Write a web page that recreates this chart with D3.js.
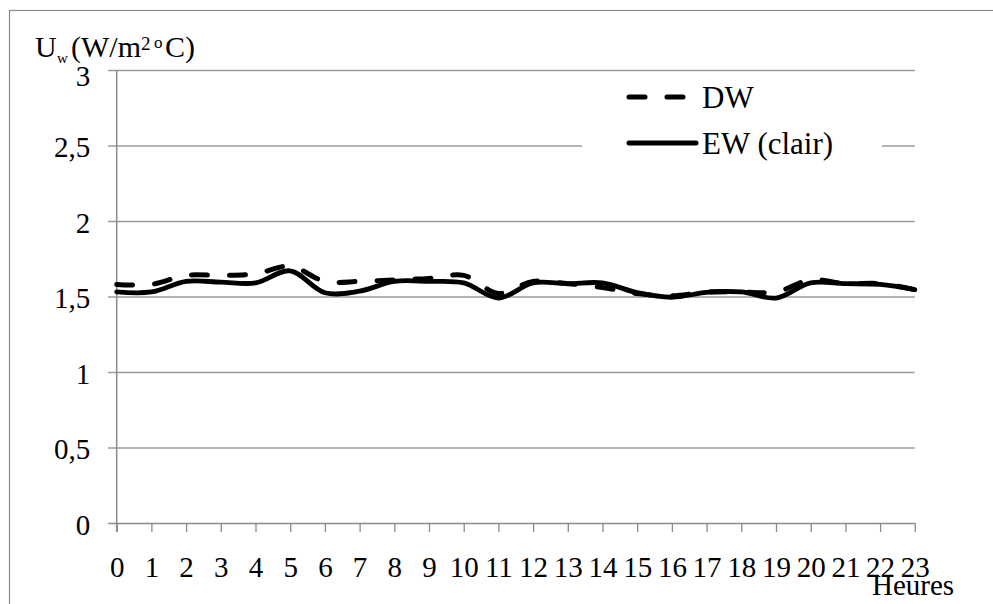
<!DOCTYPE html>
<html>
<head>
<meta charset="utf-8">
<script src="https://cdn.jsdelivr.net/npm/d3@7"></script>
<style>
  html, body { margin: 0; padding: 0; background: #fff; }
  svg { display: block; }
  text { font-family: "Liberation Serif", "Times New Roman", serif; fill: #000; }
</style>
</head>
<body>
<svg id="chart" width="993" height="604"></svg>
<script>
// Hours of the day (x categories)
const hours = d3.range(0, 24);
// Heat transfer coefficient U_w (W/m² °C) per hour
const dwValues = [1.58, 1.58, 1.64, 1.64, 1.65, 1.70, 1.60, 1.60, 1.61, 1.62, 1.64, 1.52,
                  1.60, 1.585, 1.56, 1.52, 1.505, 1.53, 1.53, 1.53, 1.61, 1.585, 1.585, 1.545];
const ewValues = [1.53, 1.53, 1.60, 1.595, 1.59, 1.67, 1.525, 1.535, 1.60, 1.60, 1.59, 1.49,
                  1.59, 1.585, 1.59, 1.525, 1.495, 1.527, 1.53, 1.49, 1.59, 1.585, 1.58, 1.545];
const yTicks = [0, 0.5, 1, 1.5, 2, 2.5, 3];
const seriesNames = ["DW", "EW (clair)"];

const svg = d3.select("#chart");
const fmt = d => String(d).replace(".", ",");

// Plot geometry
const plotLeft = 116.7, plotRight = 914.8, plotTop = 70, plotBottom = 523;

const x = d3.scalePoint().domain(hours).range([plotLeft, plotRight]);
const y = d3.scaleLinear().domain([0, 3]).range([plotBottom, plotTop]);

// Outer frame
svg.append("rect")
  .attr("x", 9.5).attr("y", 10.5).attr("width", 1000).attr("height", 620)
  .attr("fill", "none").attr("stroke", "#8a8a8a").attr("stroke-width", 1.2);

// Horizontal gridlines (with short outside tick to the left)
svg.append("g")
  .attr("transform", `translate(${plotRight},0)`)
  .call(d3.axisLeft(y).tickValues(yTicks.filter(d => d > 0)).tickSize(plotRight - 108).tickFormat(""))
  .call(g => g.select(".domain").remove())
  .call(g => g.selectAll(".tick line").attr("stroke", "#9a9a9a").attr("stroke-width", 1.3));

// Y axis labels
const yAxis = svg.append("g")
  .attr("transform", `translate(${plotLeft},0)`)
  .call(d3.axisLeft(y).tickValues(yTicks).tickSize(0).tickPadding(26.5).tickFormat(fmt))
  .call(g => g.select(".domain").remove());
yAxis.selectAll(".tick text")
  .attr("font-size", 29)
  .attr("dy", d => d === 3 ? "0.55em" : "0.38em");

// Y axis line
svg.append("line")
  .attr("x1", plotLeft).attr("x2", plotLeft).attr("y1", plotTop).attr("y2", plotBottom + 9)
  .attr("stroke", "#8a8a8a").attr("stroke-width", 1.5);

// X axis with tick marks below
const xAxis = svg.append("g")
  .attr("transform", `translate(0,${plotBottom})`)
  .call(d3.axisBottom(x).tickSize(9).tickPadding(0).tickSizeOuter(0));
xAxis.select(".domain").attr("stroke", "#8a8a8a").attr("stroke-width", 1.5)
  .attr("d", `M108,0.5H${plotRight}`);
xAxis.selectAll(".tick line").attr("stroke", "#8a8a8a").attr("stroke-width", 1.3);
xAxis.selectAll(".tick text")
  .attr("font-size", 29)
  .attr("y", 54).attr("dy", 0);

// Axis title
svg.append("text")
  .attr("x", 872).attr("y", 595)
  .attr("font-size", 29)
  .text("Heures");

const title = svg.append("text").attr("y", 57).attr("font-size", 30);
title.append("tspan").attr("x", 35).text("U");
title.append("tspan").attr("x", 57).attr("y", 63).attr("font-size", 15).text("w");
title.append("tspan").attr("x", 71).attr("y", 57).text("(W/m");
title.append("tspan").attr("x", 141).attr("y", 50).attr("font-size", 19).text("2");
title.append("tspan").attr("x", 154).attr("y", 48).attr("font-size", 17).text("o");
title.append("tspan").attr("x", 165).attr("y", 57).text("C)");

// Series lines
const line = d3.line()
  .x((d, i) => x(hours[i]))
  .y(d => y(d))
  .curve(d3.curveCatmullRom.alpha(0.5));

svg.append("path")
  .datum(dwValues)
  .attr("fill", "none").attr("stroke", "#000")
  .attr("stroke-width", 5).attr("stroke-linecap", "round")
  .attr("stroke-dasharray", "16,22")
  .attr("d", line);

svg.append("path")
  .datum(ewValues)
  .attr("fill", "none").attr("stroke", "#000")
  .attr("stroke-width", 4.8).attr("stroke-linecap", "round")
  .attr("d", line);

// Legend
const legend = svg.append("g");
legend.append("rect")
  .attr("x", 582).attr("y", 78).attr("width", 300).attr("height", 88)
  .attr("fill", "#fff");
const entries = [
  { name: seriesNames[0], dash: "16,22", y: 97, x2: 690 },
  { name: seriesNames[1], dash: null, y: 143, x2: 696 }
];
entries.forEach(e => {
  legend.append("line")
    .attr("x1", 629).attr("x2", e.x2).attr("y1", e.y).attr("y2", e.y)
    .attr("stroke", "#000").attr("stroke-width", 5).attr("stroke-linecap", "round")
    .attr("stroke-dasharray", e.dash);
  legend.append("text")
    .attr("x", 702).attr("y", e.y + 11)
    .attr("font-size", 31)
    .text(e.name);
});
</script>
</body>
</html>
